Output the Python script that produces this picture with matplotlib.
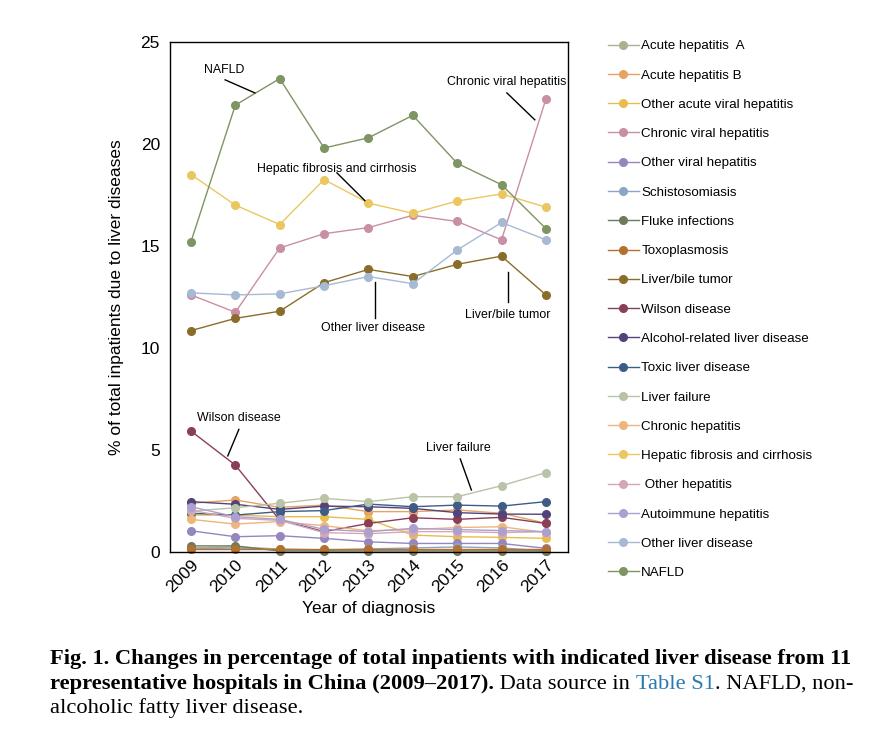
import matplotlib
matplotlib.use("Agg")
import matplotlib.pyplot as plt
from matplotlib.lines import Line2D

plt.rcParams["font.family"] = ["Liberation Sans", "DejaVu Sans"]

YEARS = [2009, 2010, 2011, 2012, 2013, 2014, 2015, 2016, 2017]

LABELS = [
    "Acute hepatitis  A", "Acute hepatitis B", "Other acute viral hepatitis",
    "Chronic viral hepatitis", "Other viral hepatitis", "Schistosomiasis",
    "Fluke infections", "Toxoplasmosis", "Liver/bile tumor", "Wilson disease",
    "Alcohol-related liver disease", "Toxic liver disease", "Liver failure",
    "Chronic hepatitis", "Hepatic fibrosis and cirrhosis", " Other hepatitis",
    "Autoimmune hepatitis", "Other liver disease", "NAFLD",
]

COLORS = [
    "#a9b18f", "#e9a262", "#e7bd4f", "#c98fa4", "#9587be", "#8ba5c7",
    "#6d7b5a", "#b4702f", "#8b6d2b", "#8a3f58", "#52437b", "#3f5d84",
    "#b9c3a8", "#efb57c", "#ebc760", "#d4a7b8", "#aca0d1", "#a6bad3",
    "#7f9463",
]

acute_hep_a   = [0.20, 0.25, 0.15, 0.10, 0.10, 0.10, 0.10, 0.10, 0.05]
acute_hep_b   = [2.39, 2.55, 2.19, 2.30, 1.98, 1.98, 2.06, 1.90, 1.41]
other_acute   = [1.81, 1.81, 1.73, 1.73, 1.60, 0.83, 0.75, 0.72, 0.67]
chronic_viral = [12.60, 11.75, 14.90, 15.60, 15.90, 16.50, 16.20, 15.30, 22.20]
other_viral   = [1.04, 0.75, 0.80, 0.67, 0.50, 0.42, 0.42, 0.42, 0.18]
schisto       = [0.15, 0.20, 0.10, 0.10, 0.15, 0.20, 0.25, 0.20, 0.05]
fluke         = [0.30, 0.30, 0.05, 0.05, 0.05, 0.05, 0.05, 0.05, 0.05]
toxo          = [0.15, 0.15, 0.15, 0.15, 0.15, 0.15, 0.15, 0.15, 0.15]
tumor         = [10.85, 11.45, 11.80, 13.20, 13.85, 13.50, 14.10, 14.50, 12.60]
wilson        = [5.93, 4.26, 1.57, 1.00, 1.40, 1.68, 1.60, 1.70, 1.40]
alcohol       = [2.47, 2.34, 2.09, 2.25, 2.22, 2.14, 1.93, 1.86, 1.85]
toxic         = [1.90, 1.81, 1.98, 2.03, 2.35, 2.22, 2.30, 2.25, 2.47]
liver_failure = [2.00, 2.17, 2.39, 2.63, 2.47, 2.71, 2.71, 3.25, 3.89]
chronic_hep   = [1.60, 1.37, 1.49, 1.29, 1.04, 1.10, 1.20, 1.24, 0.95]
fibrosis      = [18.50, 17.00, 16.05, 18.25, 17.10, 16.60, 17.20, 17.55, 16.90]
other_hep     = [2.05, 1.65, 1.55, 0.95, 0.90, 1.00, 1.00, 0.95, 1.00]
autoimmune    = [2.22, 1.73, 1.60, 1.11, 1.00, 1.16, 1.10, 1.05, 1.00]
other_liver   = [12.70, 12.60, 12.65, 13.05, 13.50, 13.15, 14.80, 16.15, 15.30]
nafld         = [15.20, 21.90, 23.20, 19.80, 20.30, 21.40, 19.05, 18.00, 15.85]

SERIES = [acute_hep_a, acute_hep_b, other_acute, chronic_viral, other_viral,
          schisto, fluke, toxo, tumor, wilson, alcohol, toxic, liver_failure,
          chronic_hep, fibrosis, other_hep, autoimmune, other_liver, nafld]

# (text, text xy, line start, line end) in data coords
CALLOUTS = [
    ("NAFLD", (2009.74, 23.6), (2009.77, 23.14), (2010.44, 22.5)),
    ("Chronic viral hepatitis", (2016.12, 23.04), (2016.12, 22.5), (2016.75, 21.18)),
    ("Hepatic fibrosis and cirrhosis", (2012.29, 18.77), (2012.29, 18.58), (2012.92, 17.22)),
    ("Other liver disease", (2013.1, 11.0), (2013.14, 13.25), (2013.14, 11.46)),
    ("Liver/bile tumor", (2016.14, 11.62), (2016.14, 13.7), (2016.14, 12.27)),
    ("Wilson disease", (2010.08, 6.55), (2010.08, 6.01), (2009.83, 4.71)),
    ("Liver failure", (2015.02, 5.08), (2015.07, 4.56), (2015.32, 3.04)),
]

fig = plt.figure(figsize=(8.7, 7.48), dpi=100)
ax = fig.add_axes([0.195, 0.262, 0.458, 0.682])

for label, vals, color in zip(LABELS, SERIES, COLORS):
    ax.plot(YEARS, vals, color=color, linewidth=1.0, marker="o",
            markersize=5.5, clip_on=False, label=label)

for text, txy, p0, p1 in CALLOUTS:
    ax.text(txy[0], txy[1], text, fontsize=8.9, ha="center", va="center")
    ax.plot([p0[0], p1[0]], [p0[1], p1[1]], color="black", linewidth=1.0)

ax.set_xlim(2008.52, 2017.5)
ax.set_ylim(0, 25)
ax.set_xticks(YEARS)
ax.set_xticklabels([str(y) for y in YEARS], rotation=45, ha="right",
                   rotation_mode="anchor")
ax.set_yticks([0, 5, 10, 15, 20, 25])
ax.tick_params(length=0, labelsize=12.5, pad=7)
ax.tick_params(axis="x", pad=4)
for sp in ax.spines.values():
    sp.set_linewidth(1.0)
ax.set_ylabel("% of total inpatients due to liver diseases", fontsize=12.5, labelpad=12)
ax.set_xlabel("Year of diagnosis", fontsize=12.5, labelpad=4)

handles = [Line2D([], [], color=c, linewidth=1.0, marker="o", markersize=5.5)
           for c in COLORS]
fig.legend(handles, LABELS, loc="upper left", bbox_to_anchor=(608 / 870, 1 - 40 / 748),
           frameon=False, fontsize=9.6, labelspacing=1.27, handlelength=2.3,
           handletextpad=0.2, borderaxespad=0, borderpad=0)

# caption, built from runs of text
renderer = fig.canvas.get_renderer()
W = fig.bbox.width


def run_width(s, kw):
    a = fig.text(0, 0, "x" + s + "x", **kw)
    b = fig.text(0, 0, "xx", **kw)
    w = a.get_window_extent(renderer).width - b.get_window_extent(renderer).width
    a.remove()
    b.remove()
    return w / W


def put_runs(runs, x, y):
    for s, kw in runs:
        fig.text(x, y, s, va="baseline", **kw)
        x += run_width(s, kw)


cap = dict(family="Liberation Serif", fontsize=16.2)
bold = dict(cap, fontweight="bold")
blue = dict(cap, color="#2b7bb0")
put_runs([("Fig. 1. Changes in percentage of total inpatients with indicated liver disease from 11", bold)],
         50 / 870, 1 - 664 / 748)
put_runs([("representative hospitals in China (2009\u20132017).", bold),
          (" Data source in ", cap), ("Table S1", blue), (". NAFLD, non-", cap)],
         50 / 870, 1 - 689 / 748)
put_runs([("alcoholic fatty liver disease.", cap)], 50 / 870, 1 - 713 / 748)

fig.savefig("out.png", dpi=100)
